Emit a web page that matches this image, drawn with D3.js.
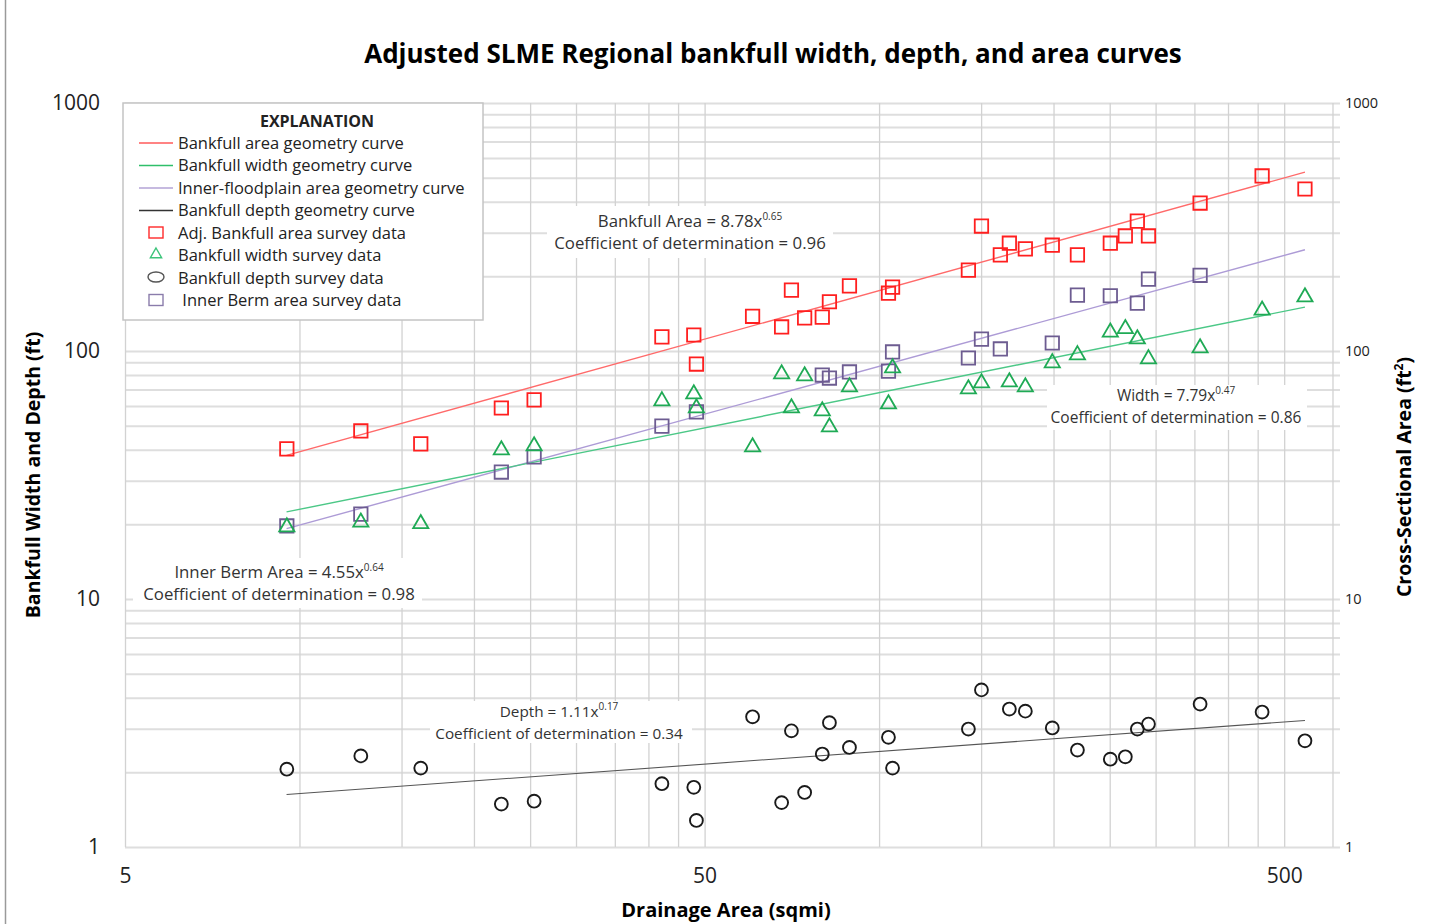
<!DOCTYPE html>
<html>
  <head>
    <meta charset="utf-8">
    <script src="https://cdn.jsdelivr.net/npm/d3@7"></script>
    <style>
      body { margin: 0; background: #fff; }
      svg { font-family: "Open Sans", sans-serif; }
    </style>
  </head>
  <body>
    <svg width="1453" height="924" id="chart"></svg>
    <script>
    // survey sites, drainage area in sqmi
    var drainageArea = [9.51, 12.76, 16.19, 22.3, 25.4, 42.2, 47.9, 48.4, 60.5, 67.9, 70.6, 74.4, 79.8, 82.1, 88.9,
                        103.8, 105.5, 142.6, 150.2, 161.9, 167.8, 178.8, 199, 219.9, 250.6, 266, 279, 291.6, 358, 458, 543];
    var bankfullArea  = [40.3, 47.6, 42.2, 58.9, 63.5, 114, 116, 88.6, 138, 125, 176, 136, 137, 158, 183,
                         171, 181, 212, 319, 244, 272, 258, 267, 244, 272, 291, 334, 291, 395, 508, 450];
    var bankfullWidth = [19.5, 20.4, 20.1, 39.9, 41.4, 62.9, 67.1, 58.9, 41.0, 80.8, 58.9, 79.3, 57.3, 49.4, 71.6,
                         61.1, 85.4, 70.3, 74.3, null, 75.0, 71.6, 89.5, 96.4, 119, 123, 111.7, 92.9, 102.8, 146, 165];
    var bankfullDepth = [2.06, 2.33, 2.08, 1.49, 1.53, 1.80, 1.74, 1.28, 3.35, 1.51, 2.94, 1.66, 2.37, 3.17, 2.52,
                         2.77, 2.08, 2.99, 4.30, null, 3.60, 3.53, 3.02, 2.46, 2.26, 2.31, 2.99, 3.13, 3.77, 3.50, 2.68];
    var innerBermArea = [19.7, 22.0, null, 32.5, 37.4, 49.8, null, 56.8, null, null, null, null, 80.0, 77.8, 82.3,
                         83, 99.1, 93.7, 111.7, 101.9, null, null, 107.7, 168, 167, null, 156, 195, 202, null, null];

    // regression curves: coefficient, exponent, drawn between these drainage areas
    var curveRange = [9.5, 543];
    var areaFit  = [8.78, 0.65];
    var widthFit = [7.79, 0.47];
    var bermFit  = [4.55, 0.64];
    var depthFit = [1.11, 0.17];

    var xLabelTicks = [5, 50, 500];
    var xGridTicks = [5, 10, 15, 20, 25, 30, 35, 40, 45, 50, 100, 150, 200, 250, 300, 350, 400, 450, 500];
    var yLabelTicks = [1, 10, 100, 1000];
    var yGridTicks = [1, 2, 3, 4, 5, 6, 7, 8, 9, 10, 20, 30, 40, 50, 60, 70, 80, 90, 100,
                      200, 300, 400, 500, 600, 700, 800, 900, 1000];

    var legendItems = [
      {label: "Bankfull area geometry curve", kind: "line", color: "#ff5a5a"},
      {label: "Bankfull width geometry curve", kind: "line", color: "#2fbf6a"},
      {label: "Inner-floodplain area geometry curve", kind: "line", color: "#b3a3d6"},
      {label: "Bankfull depth geometry curve", kind: "line", color: "#333"},
      {label: "Adj. Bankfull area survey data", kind: "square", color: "#ff2a2a"},
      {label: "Bankfull width survey data", kind: "triangle", color: "#3cc47a"},
      {label: "Bankfull depth survey data", kind: "ellipse", color: "#555"},
      {label: " Inner Berm area survey data", kind: "square", color: "#8a7cab"}
    ];

    var svg = d3.select("#chart"),
        plotL = 125, plotR = 1333, plotT = 103, plotB = 847;

    var x = d3.scaleLog().domain([5, 607]).range([plotL, plotR]),
        y = d3.scaleLog().domain([1, 1000]).range([plotB, plotT]);

    // outer frame edge on the left
    svg.append("line")
       .attr("x1", 5.5).attr("x2", 5.5).attr("y1", 0).attr("y2", 924)
       .attr("stroke", "#9a9a9a").attr("stroke-width", 1.5);

    svg.append("text")
       .attr("x", 773).attr("y", 63)
       .attr("text-anchor", "middle")
       .attr("font-size", "26px").attr("font-weight", "bold")
       .text("Adjusted SLME Regional bankfull width, depth, and area curves");

    // grid lines
    var gy = svg.append("g")
       .attr("transform", "translate(" + plotL + ",0)")
       .call(d3.axisLeft(y).tickValues(yGridTicks).tickSize(-(plotR - plotL + 7)).tickFormat(""));
    gy.select(".domain").remove();
    gy.selectAll("line").attr("stroke", "#dedede").attr("stroke-width", 2);

    var gx = svg.append("g")
       .attr("transform", "translate(0," + plotB + ")")
       .call(d3.axisBottom(x).tickValues(xGridTicks).tickSize(-(plotB - plotT)).tickFormat(""));
    gx.select(".domain").remove();
    gx.selectAll("line").attr("stroke", "#d2d2d2").attr("stroke-width", 1.3);

    svg.append("line")
       .attr("x1", plotR).attr("x2", plotR).attr("y1", plotT).attr("y2", plotB)
       .attr("stroke", "#d2d2d2").attr("stroke-width", 1.3);

    // tick labels
    var axL = svg.append("g")
       .attr("transform", "translate(" + plotL + ",0)")
       .call(d3.axisLeft(y).tickValues(yLabelTicks).tickSize(0).tickPadding(25).tickFormat(d3.format("d")));
    axL.select(".domain").remove();
    axL.selectAll("text").attr("font-size", "21px").attr("font-family", "Open Sans").attr("fill", "#222");

    var axR = svg.append("g")
       .attr("transform", "translate(" + plotR + ",0)")
       .call(d3.axisRight(y).tickValues(yLabelTicks).tickSize(0).tickPadding(12).tickFormat(d3.format("d")));
    axR.select(".domain").remove();
    axR.selectAll("text").attr("font-size", "14.5px").attr("font-family", "Open Sans").attr("fill", "#222");

    var axB = svg.append("g")
       .attr("transform", "translate(0," + plotB + ")")
       .call(d3.axisBottom(x).tickValues(xLabelTicks).tickSize(0).tickPadding(21).tickFormat(d3.format("d")));
    axB.select(".domain").remove();
    axB.selectAll("text").attr("font-size", "21px").attr("font-family", "Open Sans").attr("fill", "#222");

    // axis titles
    svg.append("text")
       .attr("transform", "translate(40,475) rotate(-90)")
       .attr("text-anchor", "middle")
       .attr("font-size", "19.5px").attr("font-weight", "bold")
       .text("Bankfull Width and Depth (ft)");

    var rt = svg.append("text")
       .attr("transform", "translate(1411,477) rotate(-90)")
       .attr("text-anchor", "middle")
       .attr("font-size", "19.5px").attr("font-weight", "bold");
    rt.append("tspan").text("Cross-Sectional  Area (ft");
    rt.append("tspan").attr("baseline-shift", "super").attr("font-size", "12px").text("2");
    rt.append("tspan").text(")");

    svg.append("text")
       .attr("x", 726).attr("y", 917)
       .attr("text-anchor", "middle")
       .attr("font-size", "20px").attr("font-weight", "bold")
       .text("Drainage Area (sqmi)");

    // equation labels
    function note(cx, cy, box, size, name, coef, expo, r2) {
      svg.append("rect")
         .attr("x", box[0]).attr("y", box[1]).attr("width", box[2]).attr("height", box[3])
         .attr("fill", "#fff");
      var t = svg.append("text")
         .attr("x", cx).attr("y", cy)
         .attr("text-anchor", "middle")
         .attr("font-size", size + "px").attr("fill", "#333");
      t.append("tspan").text(name + " = " + coef + "x");
      t.append("tspan").attr("baseline-shift", "super").attr("font-size", "10px").text(expo);
      svg.append("text")
         .attr("x", cx).attr("y", cy + 22)
         .attr("text-anchor", "middle")
         .attr("font-size", size + "px").attr("fill", "#333")
         .text("Coefficient of determination = " + r2);
    }
    note(690, 227, [547, 206, 286, 52], 16.8, "Bankfull Area", areaFit[0], areaFit[1], "0.96");
    note(1176, 401, [1047, 385, 260, 45], 15.5, "Width", widthFit[0], widthFit[1], "0.86");
    note(279, 578, [133, 558, 289, 50], 16.8, "Inner Berm Area", bermFit[0], bermFit[1], "0.98");
    note(559, 717, [430, 701, 262, 42], 15.3, "Depth", depthFit[0], depthFit[1], "0.34");

    // regression curves (straight on log-log)
    var line = d3.line().x(function(d) { return x(d[0]); }).y(function(d) { return y(d[1]); });
    function curve(fit, color, w) {
      var pts = curveRange.map(function(a) { return [a, fit[0] * Math.pow(a, fit[1])]; });
      svg.append("path").attr("d", line(pts))
         .attr("fill", "none").attr("stroke", color).attr("stroke-width", w);
    }
    curve(areaFit, "#ff6a6a", 1.4);
    curve(bermFit, "#ad9bd6", 1.4);
    curve(widthFit, "#4cc887", 1.4);
    curve(depthFit, "#555", 1.1);

    // survey points
    function points(values, shape, size, color, sw) {
      var data = drainageArea.map(function(a, i) { return [a, values[i]]; })
                             .filter(function(d) { return d[1] != null; });
      svg.append("g").selectAll("path")
         .data(data)
         .enter().append("path")
         .attr("transform", function(d) { return "translate(" + x(d[0]) + "," + y(d[1]) + ")"; })
         .attr("d", d3.symbol().type(shape).size(size))
         .attr("fill", "none").attr("stroke", color).attr("stroke-width", sw);
    }
    points(bankfullArea, d3.symbolSquare, 180, "#ff1f1f", 1.8);
    points(innerBermArea, d3.symbolSquare, 180, "#6d5c91", 1.8);
    points(bankfullWidth, d3.symbolTriangle, 100, "#1faa55", 1.8);
    points(bankfullDepth, d3.symbolCircle, 130, "#1a1a1a", 1.9);

    // legend
    var lg = svg.append("g");
    lg.append("rect")
      .attr("x", 123).attr("y", 103).attr("width", 360).attr("height", 217)
      .attr("fill", "#fff").attr("stroke", "#c4c4c4").attr("stroke-width", 1.5);
    lg.append("text")
      .attr("x", 317).attr("y", 127)
      .attr("text-anchor", "middle")
      .attr("font-size", "16px").attr("font-weight", "bold").attr("fill", "#222")
      .text("EXPLANATION");

    var rows = lg.selectAll(".row")
      .data(legendItems)
      .enter().append("g")
      .attr("class", "row")
      .attr("transform", function(d, i) { return "translate(0," + (143 + i * 22.5) + ")"; });

    rows.append("text")
      .attr("x", 178).attr("y", 5.5)
      .attr("font-size", "16.5px").attr("fill", "#222")
      .attr("xml:space", "preserve")
      .text(function(d) { return d.label; });

    rows.filter(function(d) { return d.kind == "line"; })
      .append("line")
      .attr("x1", 139).attr("x2", 173).attr("y1", 0).attr("y2", 0)
      .attr("stroke", function(d) { return d.color; }).attr("stroke-width", 1.6);

    rows.filter(function(d) { return d.kind == "square"; })
      .append("rect")
      .attr("x", 149).attr("y", -6).attr("width", 14).attr("height", 11)
      .attr("fill", "none").attr("stroke", function(d) { return d.color; }).attr("stroke-width", 1.4);

    rows.filter(function(d) { return d.kind == "triangle"; })
      .append("path")
      .attr("transform", "translate(156,-1)")
      .attr("d", d3.symbol().type(d3.symbolTriangle).size(55))
      .attr("fill", "none").attr("stroke", function(d) { return d.color; }).attr("stroke-width", 1.4);

    rows.filter(function(d) { return d.kind == "ellipse"; })
      .append("ellipse")
      .attr("cx", 156).attr("cy", -1).attr("rx", 8).attr("ry", 5)
      .attr("fill", "none").attr("stroke", function(d) { return d.color; }).attr("stroke-width", 1.4);
    </script>
  </body>
</html>
